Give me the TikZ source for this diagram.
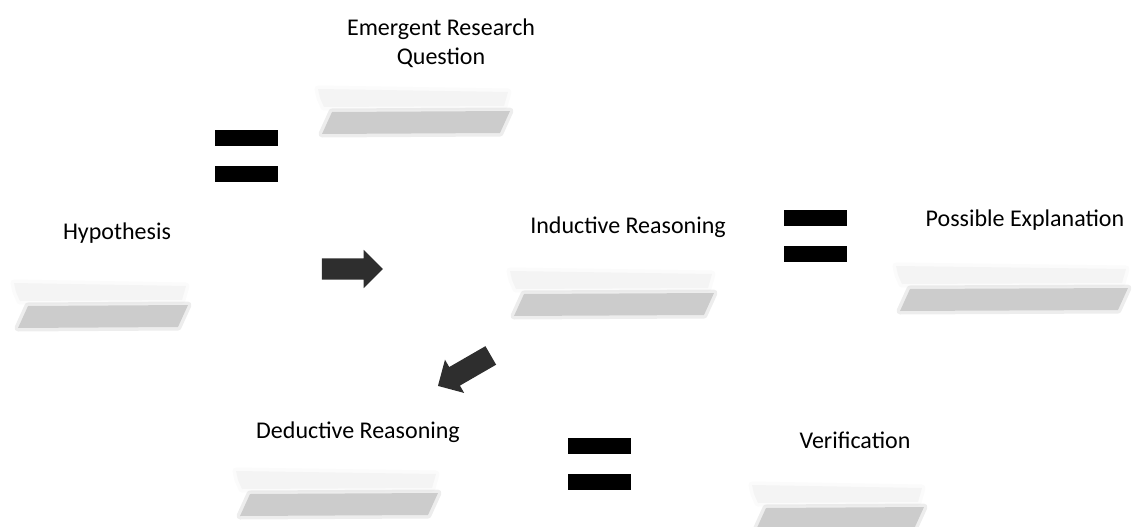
\documentclass[tikz,border=0pt]{standalone}
\usepackage{fontspec}
\setmainfont{Carlito}
\usetikzlibrary{shapes.arrows}
\tikzset{label text/.style={font=\fontsize{24}{29}\selectfont, align=center, inner sep=0pt},
         brushlight/.style={fill=gray!9, draw=gray!9, draw opacity=.4, line width=7pt, line join=round},
         brushdark/.style={fill=gray!40, draw=gray!40, draw opacity=.35, line width=7pt, line join=round},
         eqbar/.style={fill=black},
         blockarrow/.style={single arrow, fill=black!82, inner xsep=0pt, inner ysep=10.5pt,
                            single arrow head extend=8.5pt, minimum height=61pt}}
% brush stroke under a label: x, y of top left corner, width
\newcommand{\brushstroke}[3]{%
  \begin{scope}[shift={(#1,#2)}]
    \filldraw[brushlight] (0,0) -- (#3,3) -- (#3-4,17) -- (6,18) -- (2,9) -- cycle;
    \filldraw[brushdark]  (14,23) -- (#3+2,22) -- (#3-8,44) -- (4,45) -- cycle;
  \end{scope}}
% equals sign: x, y of top left corner
\newcommand{\equalsign}[2]{%
  \fill[eqbar] (#1,#2) rectangle +(63,16);
  \fill[eqbar] (#1,#2+36) rectangle +(63,16);}

\begin{document}
\begin{tikzpicture}[x=1pt,y=-1pt]
\useasboundingbox (0,0) rectangle (1133,527);

% Brush strokes
\brushstroke{318}{89}{190}
\brushstroke{14}{283}{172}
\brushstroke{510}{271}{202}
\brushstroke{896}{266}{230}
\brushstroke{236}{471}{200}
\brushstroke{752}{485}{170}

% Labels
\node[label text] (question)    at (441,43)  {Emergent Research\\Question};
\node[label text] (hypothesis)  at (117,233) {Hypothesis};
\node[label text] (inductive)   at (628,227) {Inductive Reasoning};
\node[label text] (explanation) at (1025,220) {Possible Explanation};
\node[label text] (deductive)   at (358,432) {Deductive Reasoning};
\node[label text] (verification) at (855,440) {Verification};

% Equals signs
\equalsign{215}{130}
\equalsign{784}{210}
\equalsign{568}{438}

% Arrows
\node[blockarrow] (arrowright) at (347,269) {};
\node[blockarrow, rotate=210] (arrowdown) at (469,368) {};

\end{tikzpicture}
\end{document}
